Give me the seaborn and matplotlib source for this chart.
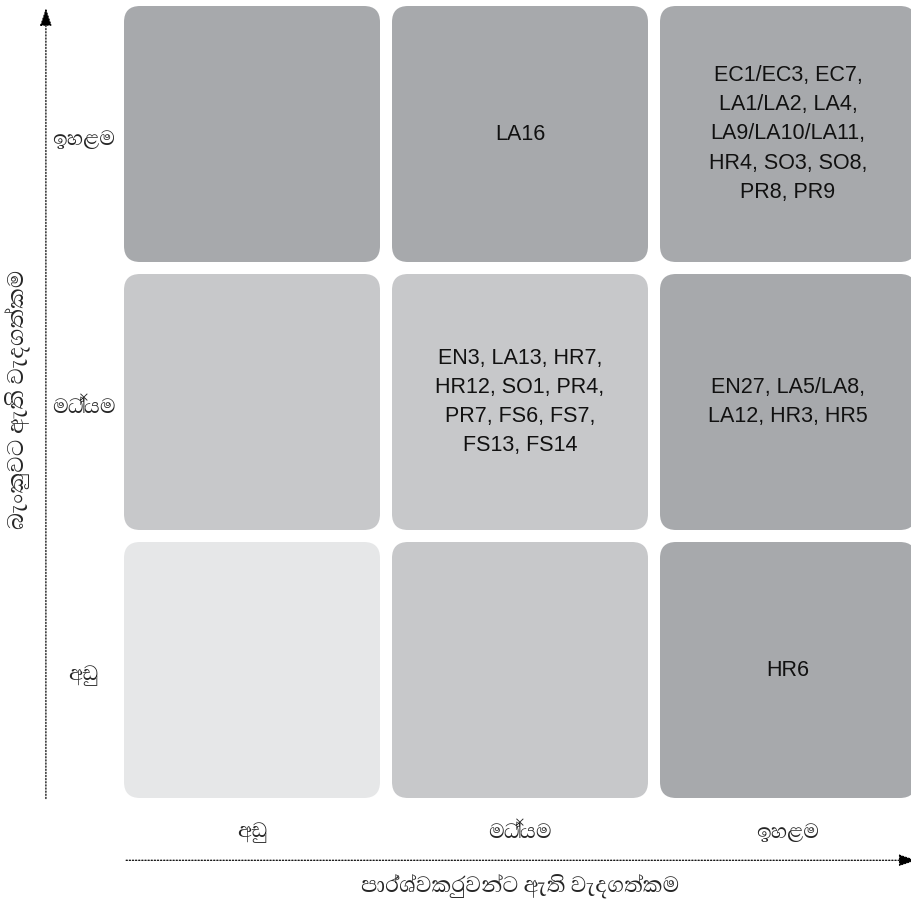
import matplotlib
matplotlib.use("Agg")
import matplotlib.pyplot as plt
from matplotlib.patches import FancyBboxPatch
import seaborn as sns

# matrix content: rows from top (high) to bottom (low), columns left (low) to right (high)
levels = ["අඩු", "මධ්‍යම", "ඉහළම"]
x_title = "පාර්ශ්වකරුවන්ට ඇති වැදගත්කම"
y_title = "බැංකුවට ඇති වැදගත්කම"

# shade level per cell (0 light, 1 medium, 2 dark), top row first
shade = [
    [2, 2, 2],
    [1, 1, 2],
    [0, 1, 2],
]
cell_text = [
    ["", "LA16", "EC1/EC3, EC7,\nLA1/LA2, LA4,\nLA9/LA10/LA11,\nHR4, SO3, SO8,\nPR8, PR9"],
    ["", "EN3, LA13, HR7,\nHR12, SO1, PR4,\nPR7, FS6, FS7,\nFS13, FS14", "EN27, LA5/LA8,\nLA12, HR3, HR5"],
    ["", "", "HR6"],
]
palette = ["#e6e7e8", "#c7c8ca", "#a7a9ac"]

sns.set_theme(style="white")
sinhala = ["Abhaya Libre", "Noto Sans Sinhala", "DejaVu Sans"]
latin = ["Liberation Sans", "DejaVu Sans"]

fig = plt.figure(figsize=(9.11, 9.07), dpi=100)
ax = fig.add_axes([118 / 911, 1 - 804 / 907, 804 / 911, 804 / 907])
ax.set_xlim(0, 3)
ax.set_ylim(3, 0)
ax.axis("off")

gap = 12 / 268
for r, row in enumerate(shade):
    for c, lvl in enumerate(row):
        box = FancyBboxPatch((c + gap / 2, r + gap / 2), 1 - gap, 1 - gap,
                             boxstyle="round,pad=0,rounding_size=0.06",
                             facecolor=palette[lvl], edgecolor="none",
                             clip_on=False)
        ax.add_patch(box)
        if cell_text[r][c]:
            ax.text(c + 0.5, r + 0.5, cell_text[r][c], ha="center", va="center",
                    fontsize=15.5, linespacing=1.52, color="#111111", family=latin)

# row labels (top = high) and column labels
for r in range(3):
    ax.text(-0.127, r + 0.52, levels[2 - r], ha="center", va="center",
            fontsize=19, family=sinhala, weight="medium", clip_on=False)
for c in range(3):
    ax.text(c + 0.5, 3.107, levels[c], ha="center", va="center",
            fontsize=19, family=sinhala, weight="medium", clip_on=False)

# dotted axes with arrow heads
ax.annotate("", xy=(-0.269, 0.02), xytext=(-0.269, 2.99), annotation_clip=False,
            arrowprops=dict(arrowstyle="-|>,head_length=0.9,head_width=0.3",
                            linestyle=(0, (1, 1.5)), lw=0.9, color="black"))
ax.annotate("", xy=(2.99, 3.21), xytext=(0.02, 3.21), annotation_clip=False,
            arrowprops=dict(arrowstyle="-|>,head_length=0.9,head_width=0.3",
                            linestyle=(0, (1, 1.5)), lw=0.9, color="black"))

ax.text(1.5, 3.31, x_title, ha="center", va="center", fontsize=20,
        family=sinhala, weight="medium", clip_on=False)
ax.text(-0.377, 1.49, y_title, ha="center", va="center", rotation=90,
        fontsize=21, family=sinhala, weight="medium", clip_on=False)

fig.savefig("out.png", dpi=100, facecolor="white")
